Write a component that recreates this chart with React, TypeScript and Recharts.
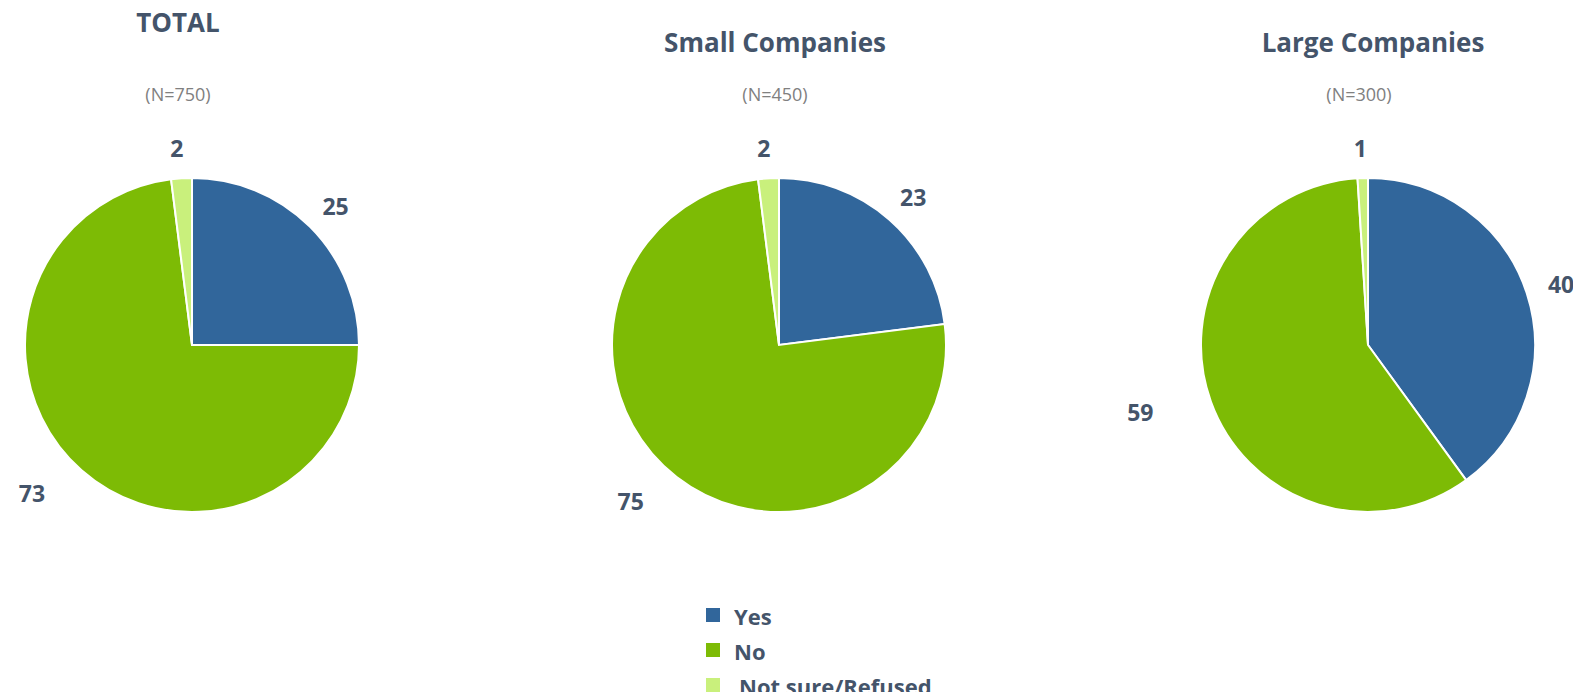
import React from 'react';
import { PieChart, Pie, Cell, Legend } from 'recharts';

const categories = ['Yes', 'No', 'Not sure/Refused'];
const totalValues = [25, 73, 2];
const smallValues = [23, 75, 2];
const largeValues = [40, 59, 1];
const panelTitles = ['TOTAL', 'Small Companies', 'Large Companies'];
const panelBases = ['(N=750)', '(N=450)', '(N=300)'];

const COLORS = ['#31669b', '#7dbb05', '#c9f07c'];
const TEXT = '#44546a';
const FONT = '"Open Sans", Lato, sans-serif';
const RAD = Math.PI / 180;

const W = 1565;
const H = 684;
const R = 167;
const CY = 337;
const centers = [184, 771, 1360];
const titleX = [170, 767, 1365];
const titleY = [14, 34, 34];
const baseX = [170, 767, 1351];
const BASE_Y = 86;

const toRows = (values: number[]) => categories.map((name, i) => ({ name, value: values[i] }));
const panels = [toRows(totalValues), toRows(smallValues), toRows(largeValues)];

const renderLabel = ({ cx, cy, midAngle, outerRadius, value }: any) => {
  const ux = Math.cos(-midAngle * RAD);
  const uy = Math.sin(-midAngle * RAD);
  const rx = ux < 0 ? outerRadius + 75 : outerRadius + 36;
  const ry = outerRadius + 30;
  return (
    <text
      x={cx + ux * rx}
      y={cy + uy * ry}
      fill={TEXT}
      textAnchor="middle"
      dominantBaseline="central"
      fontFamily={FONT}
      fontWeight={700}
      fontSize={23}
    >
      {value}
    </text>
  );
};

const LegendBox = () => (
  <div style={{ fontFamily: FONT, color: TEXT }}>
    {categories.map((c, i) => (
      <div key={c} style={{ display: 'flex', alignItems: 'center', height: 35 }}>
        <div style={{ width: 14, height: 14, background: COLORS[i], marginRight: i === 2 ? 19 : 14 }} />
        <span style={{ fontSize: 22, fontWeight: 700, lineHeight: '26px', position: 'relative', top: 1 }}>{c}</span>
      </div>
    ))}
  </div>
);

export default function App() {
  return (
    <div style={{ position: 'relative', width: W, height: H }}>
      <style>{'.recharts-surface, .recharts-wrapper, .recharts-legend-wrapper { overflow: visible !important; }'}</style>
      <PieChart width={W} height={H} margin={{ top: 0, right: 0, bottom: 0, left: 0 }}>
        {panels.map((rows, p) => (
          <Pie
            key={p}
            data={rows}
            dataKey="value"
            nameKey="name"
            cx={centers[p]}
            cy={CY}
            outerRadius={R}
            startAngle={90}
            endAngle={-270}
            stroke="#ffffff"
            strokeWidth={2}
            label={renderLabel}
            labelLine={false}
            isAnimationActive={false}
          >
            {rows.map((r, i) => (
              <Cell key={r.name} fill={COLORS[i]} />
            ))}
          </Pie>
        ))}
        <Legend
          content={<LegendBox />}
          wrapperStyle={{ position: 'absolute', left: 698, top: 589, width: 260, height: 105 }}
        />
      </PieChart>
      {panelTitles.map((t, p) => (
        <div
          key={t}
          style={{
            position: 'absolute',
            left: titleX[p] - 200,
            width: 400,
            top: titleY[p] - 18,
            lineHeight: '36px',
            textAlign: 'center',
            fontFamily: FONT,
            fontWeight: 700,
            fontSize: 26,
            color: TEXT,
          }}
        >
          {t}
        </div>
      ))}
      {panelBases.map((t, p) => (
        <div
          key={t}
          style={{
            position: 'absolute',
            left: baseX[p] - 200,
            width: 400,
            top: BASE_Y - 12,
            lineHeight: '24px',
            textAlign: 'center',
            fontFamily: FONT,
            fontSize: 18,
            color: '#808080',
          }}
        >
          {t}
        </div>
      ))}
    </div>
  );
}
